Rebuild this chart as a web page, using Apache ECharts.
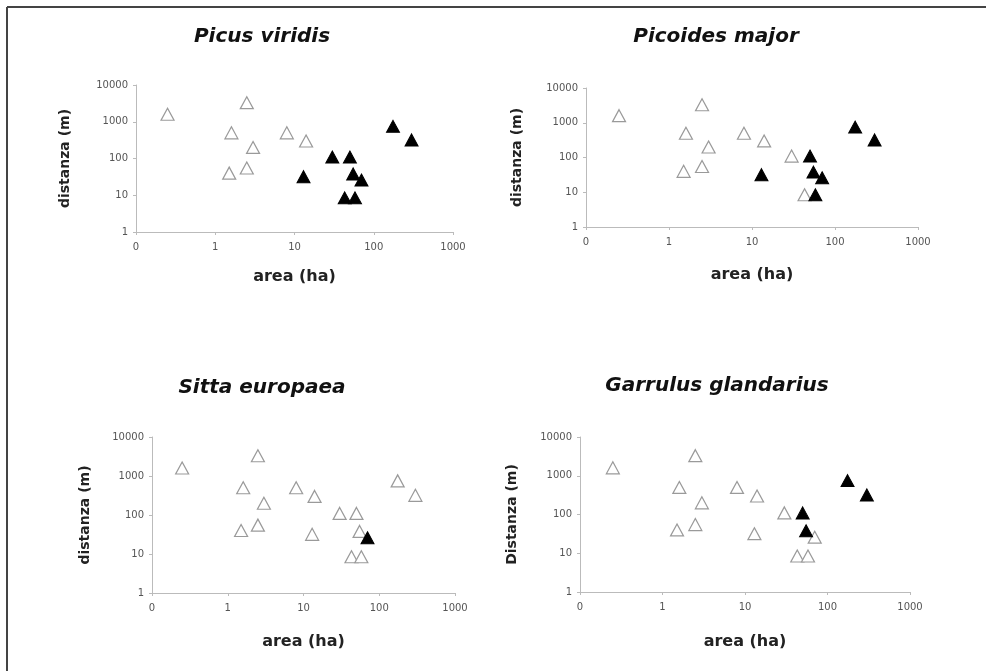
<!DOCTYPE html>
<html>
<head>
<meta charset="utf-8">
<script src="https://cdn.jsdelivr.net/npm/echarts@6/dist/echarts.min.js"></script>
<style>
html,body{margin:0;padding:0;background:#fff;}
#chart{width:986px;height:671px;}
</style>
</head>
<body>
<div id="chart"></div>
<script>
// Sites: area (ha) and distance (m)
var area     = [0.25, 2.5, 1.6, 3, 1.5, 2.5, 8, 14, 13, 30, 50, 55, 70, 43, 58, 175, 300];
var distanza = [1600, 3300, 500, 200, 40, 55, 500, 300, 32, 110, 110, 38, 26, 8.5, 8.5, 750, 320];
// presence (1 = filled triangle) per species
var picusViridis       = [0,0,0,0,0,0,0,0,1,1,1,1,1,1,1,1,1];
var picoidesMajor      = [0,0,0,0,0,0,0,0,1,0,1,1,1,0,1,1,1];
var sittaEuropaea      = [0,0,0,0,0,0,0,0,0,0,0,0,1,0,0,0,0];
var garrulusGlandarius = [0,0,0,0,0,0,0,0,0,0,1,1,0,0,0,1,1];

var titles = ['Picus viridis', 'Picoides major', 'Sitta europaea', 'Garrulus glandarius'];
var yNames = ['distanza (m)', 'distanza (m)', 'distanza (m)', 'Distanza (m)'];
var xName = 'area (ha)';
var xTicks = [0.1, 1, 10, 100, 1000];
var yTicks = [1, 10, 100, 1000, 10000];
var presence = [picusViridis, picoidesMajor, sittaEuropaea, garrulusGlandarius];

var grids = [
  {left:136, top:85, width:317, height:147, title:[262,37], xGap:37, yGap:64},
  {left:586, top:88, width:332, height:139, title:[716,37], xGap:40, yGap:62},
  {left:152, top:437, width:303, height:156, title:[262,388], xGap:41, yGap:60},
  {left:580, top:437, width:330, height:155, title:[717,386], xGap:42, yGap:61}
];

var FONT = '"DejaVu Sans", sans-serif';
var option = {
  backgroundColor:'#fff',
  animation:false,
  grid:[], xAxis:[], yAxis:[], series:[], graphic:[]
};

grids.forEach(function(g, i){
  option.grid.push({left:g.left, top:g.top, width:g.width, height:g.height});
  option.xAxis.push({
    type:'log', logBase:10, gridIndex:i, min:xTicks[0], max:xTicks[xTicks.length-1], interval:1,
    name:xName, nameLocation:'middle', nameGap:g.xGap,
    nameTextStyle:{fontFamily:FONT, fontWeight:'bold', fontSize:16, color:'#222'},
    axisLine:{show:true, lineStyle:{color:'#bbb', width:1}},
    axisTick:{show:true, length:3, lineStyle:{color:'#bbb'}},
    minorTick:{show:false},
    splitLine:{show:false},
    axisLabel:{fontFamily:FONT, fontSize:10, color:'#555', margin:10,
      formatter:function(v){ return v < 0.5 ? '0' : String(Math.round(v)); }}
  });
  option.yAxis.push({
    type:'log', logBase:10, gridIndex:i, min:yTicks[0], max:yTicks[yTicks.length-1], interval:1,
    name:yNames[i], nameLocation:'middle', nameGap:g.yGap,
    nameTextStyle:{fontFamily:FONT, fontWeight:'bold', fontSize:14, color:'#222'},
    axisLine:{show:true, lineStyle:{color:'#bbb', width:1}},
    axisTick:{show:true, length:3, lineStyle:{color:'#bbb'}},
    splitLine:{show:false},
    axisLabel:{fontFamily:FONT, fontSize:10, color:'#555', margin:8,
      formatter:function(v){ return String(Math.round(v)); }}
  });
  var open = [], filled = [];
  for (var k = 0; k < area.length; k++) {
    var p = [area[k], distanza[k]];
    if (presence[i][k]) filled.push(p); else open.push(p);
  }
  option.series.push({
    type:'scatter', xAxisIndex:i, yAxisIndex:i, symbol:'triangle', symbolSize:[13,12],
    itemStyle:{color:'#fff', borderColor:'#9a9a9a', borderWidth:1.2, opacity:1},
    data:open, z:2
  });
  option.series.push({
    type:'scatter', xAxisIndex:i, yAxisIndex:i, symbol:'triangle', symbolSize:[13,12],
    itemStyle:{color:'#000', borderColor:'#000', borderWidth:1, opacity:1},
    data:filled, z:3
  });
  option.graphic.push({
    type:'text', x:g.title[0], y:g.title[1],
    style:{text:titles[i], font:'italic bold 20px "DejaVu Sans", sans-serif', fill:'#111',
      align:'center', verticalAlign:'middle', textAlign:'center', textVerticalAlign:'middle'}
  });
});

// frame lines (top and left)
option.graphic.push({type:'line', shape:{x1:7, y1:7, x2:986, y2:7}, style:{stroke:'#444', lineWidth:2}});
option.graphic.push({type:'line', shape:{x1:7, y1:7, x2:7, y2:671}, style:{stroke:'#444', lineWidth:2}});

var chart = echarts.init(document.getElementById('chart'), null, {renderer:'canvas'});
chart.setOption(option);
</script>
</body>
</html>
